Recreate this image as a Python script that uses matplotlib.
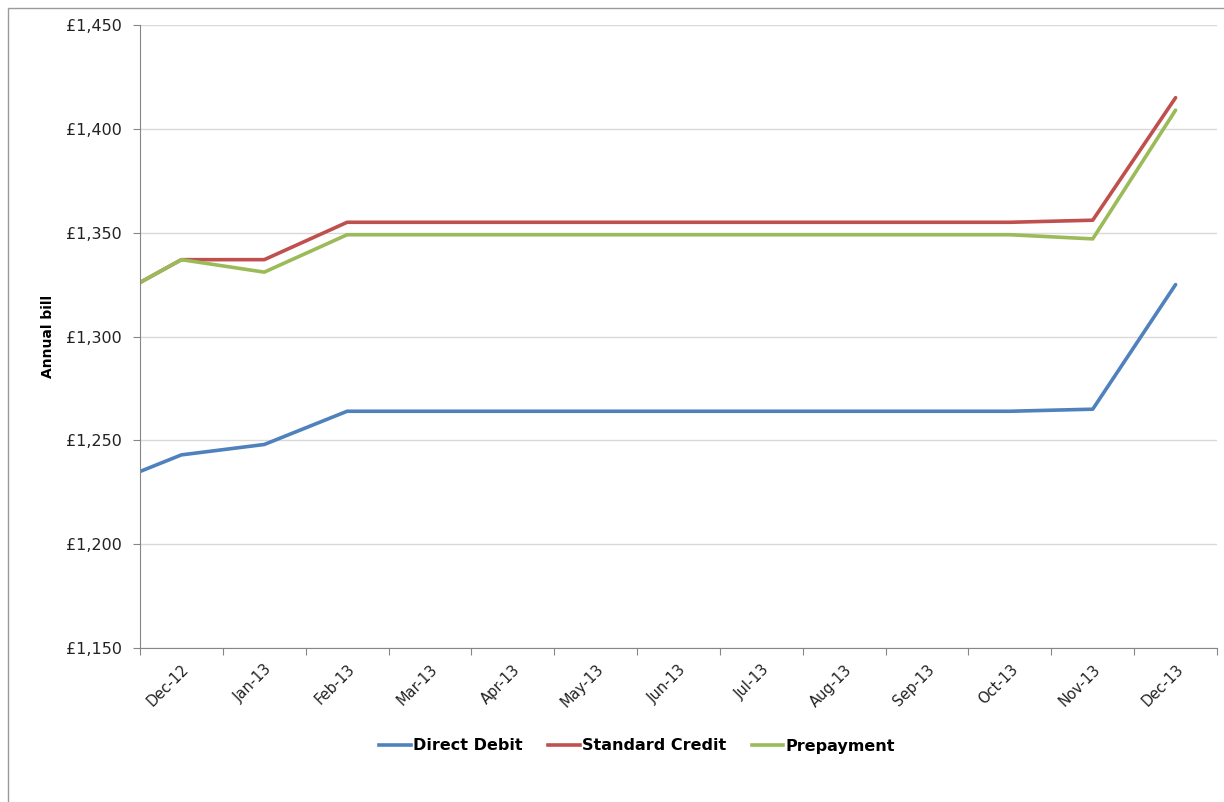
import matplotlib.pyplot as plt
import numpy as np
from matplotlib.lines import Line2D
from matplotlib.patches import Rectangle

# Monthly annual bill by payment method (first value is the opening level)
months = ["Dec-12", "Jan-13", "Feb-13", "Mar-13", "Apr-13", "May-13", "Jun-13",
          "Jul-13", "Aug-13", "Sep-13", "Oct-13", "Nov-13", "Dec-13"]
opening = {"Direct Debit": 1235, "Standard Credit": 1326, "Prepayment": 1326}
direct_debit = [1243, 1248, 1264, 1264, 1264, 1264, 1264, 1264, 1264, 1264, 1264, 1265, 1325]
standard_credit = [1337, 1337, 1355, 1355, 1355, 1355, 1355, 1355, 1355, 1355, 1355, 1356, 1415]
prepayment = [1337, 1331, 1349, 1349, 1349, 1349, 1349, 1349, 1349, 1349, 1349, 1347, 1409]

series = [
    ("Direct Debit", direct_debit, "#4F81BD"),
    ("Standard Credit", standard_credit, "#C0504D"),
    ("Prepayment", prepayment, "#9BBB59"),
]

fig = plt.figure(figsize=(12.24, 8.02), dpi=100)
ax = fig.add_axes([140 / 1224, 1 - 648 / 802, (1217 - 140) / 1224, (648 - 25) / 802])

# chart area border
fig.patches.append(Rectangle((8 / 1224, -0.1), 1.2, 1 - 8 / 802 + 0.1,
                             transform=fig.transFigure, fill=False,
                             edgecolor="#9a9a9a", lw=1.0))

n = len(months)
# opening point sits on the left edge, months at category centres
x = np.concatenate([[-0.5], np.arange(n)])
handles = []
for name, vals, col in series:
    y = [opening[name]] + vals
    ax.plot(x, y, color=col, lw=2.6, solid_joinstyle="round", solid_capstyle="round")
    handles.append(Line2D([], [], color=col, lw=2.6))

ax.set_xlim(-0.5, n - 0.5)
ax.set_ylim(1150, 1450)
ax.set_yticks(np.arange(1150, 1451, 50))
ax.set_yticklabels([f"£{v:,}" for v in np.arange(1150, 1451, 50)])
ax.yaxis.grid(True, color="#d9d9d9", lw=1)
ax.set_axisbelow(True)

# tick marks between categories, labels at category centres
ax.set_xticks(np.arange(-0.5, n, 1.0))
ax.set_xticklabels([])
ax.set_xticks(np.arange(n), minor=True)
ax.set_xticklabels(months, minor=True, rotation=45, ha="right",
                   rotation_mode="anchor", fontsize=10.5, color="#222222")
ax.tick_params(axis="x", which="minor", length=0, pad=10)
ax.tick_params(axis="x", which="major", length=5, color="#868686")
ax.tick_params(axis="y", length=5, color="#868686", labelsize=11.5,
               labelcolor="#222222", pad=8)

for s in ["top", "right"]:
    ax.spines[s].set_visible(False)
for s in ["left", "bottom"]:
    ax.spines[s].set_color("#868686")

ax.set_ylabel("Annual bill", fontsize=10, fontweight="bold", labelpad=8)

leg = fig.legend(handles, [s[0] for s in series], loc="center",
                 bbox_to_anchor=(637 / 1224, 1 - 746 / 802), ncol=3,
                 frameon=False, fontsize=11.5, handlelength=2.0,
                 handletextpad=0.1, columnspacing=1.6)
for t in leg.get_texts():
    t.set_fontweight("bold")

fig.savefig("out.png", dpi=100)
